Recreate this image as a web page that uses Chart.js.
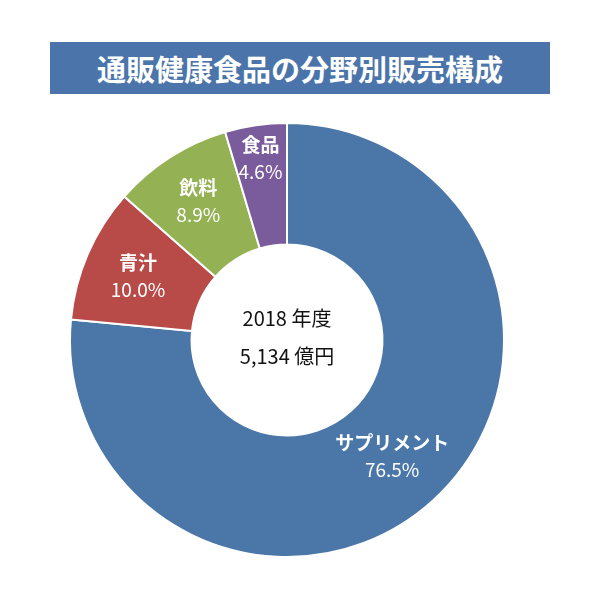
<!DOCTYPE html>
<html><head><meta charset="utf-8">
<script src="https://cdn.jsdelivr.net/npm/chart.js@4"></script>
<style>
body{margin:0;background:#fff;font-family:"Noto Sans CJK JP",sans-serif;}
#wrap{position:relative;width:600px;height:604px;}
#title{position:absolute;left:50px;top:42px;width:500px;height:52px;background:#4a74aa;color:#fff;font-size:29px;font-weight:bold;text-align:center;line-height:52px;}
canvas{position:absolute;left:0;top:0;}
</style></head><body>
<div id="wrap"><div id="title">通販健康食品の分野別販売構成</div><canvas id="c" width="600" height="604"></canvas></div>
<script>
const categories=["サプリメント","青汁","飲料","食品"];
const values=[76.5,10.0,8.9,4.6];
const colors=["#4a76a8","#b84a48","#94b153","#7a5b9c"];
const centerLines=["2018 年度","5,134 億円"];
const LABEL_R=[0.5,0.55,0.57,0.73];
const labelPlugin={id:"lbl",afterDatasetsDraw(chart){
  const ctx=chart.ctx;const meta=chart.getDatasetMeta(0);
  ctx.save();ctx.fillStyle="#fff";ctx.textAlign="center";ctx.textBaseline="middle";
  meta.data.forEach((a,i)=>{
    const m=(a.startAngle+a.endAngle)/2;const r=a.innerRadius+(a.outerRadius-a.innerRadius)*LABEL_R[i];
    const x=a.x+Math.cos(m)*r,y=a.y+Math.sin(m)*r;
    ctx.font='bold 19px "Noto Sans CJK JP"';ctx.fillText(categories[i],x,y-13);
    ctx.font='19px "Noto Sans CJK JP"';ctx.fillText(values[i].toFixed(1)+"%",x,y+14);
  });
  const a=meta.data[0];ctx.fillStyle="#111";ctx.font='20px "Noto Sans CJK JP"';
  ctx.fillText(centerLines[0],a.x,a.y-22);ctx.fillText(centerLines[1],a.x,a.y+16);
  ctx.restore();}};
new Chart(document.getElementById("c"),{type:"doughnut",
 data:{labels:categories,datasets:[{data:values,backgroundColor:colors,borderColor:"#fff",borderWidth:2}]},
 options:{responsive:false,animation:false,cutout:"44%",layout:{padding:{top:122,bottom:46,left:69,right:95}},
  plugins:{legend:{display:false},tooltip:{enabled:false}}},
 plugins:[labelPlugin]});
</script></body></html>
